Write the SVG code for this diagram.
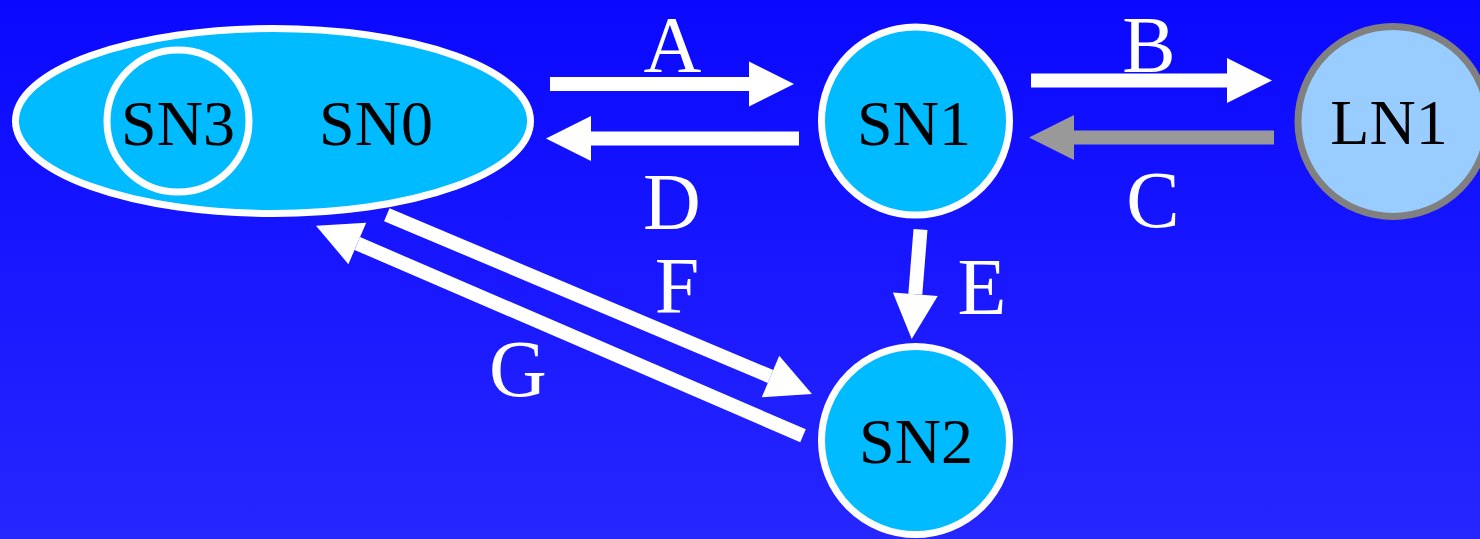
<svg xmlns="http://www.w3.org/2000/svg" width="1480" height="539" viewBox="0 0 1480 539">
<defs>
<linearGradient id="bg" x1="0" y1="0" x2="0" y2="1">
<stop offset="0" stop-color="#0a08ff"/>
<stop offset="1" stop-color="#2626ff"/>
</linearGradient>
<marker id="hw" markerUnits="userSpaceOnUse" markerWidth="46" markerHeight="46" refX="0" refY="22.5" orient="auto" overflow="visible">
<path d="M0,0 L45,22.5 L0,45 z" fill="#ffffff"/>
</marker>
<marker id="hg" markerUnits="userSpaceOnUse" markerWidth="46" markerHeight="46" refX="0" refY="22.5" orient="auto" overflow="visible">
<path d="M0,0 L45,22.5 L0,45 z" fill="#999999"/>
</marker>
<style>
.node{fill:#00bbff;stroke:#ffffff;stroke-width:7}
.ln{fill:#99ccff;stroke:#808080;stroke-width:7}
.nt{font-size:64px;fill:#000000;text-anchor:middle}
.lb{font-size:80px;fill:#ffffff;text-anchor:middle}
.aw{stroke:#ffffff;stroke-width:14;fill:none;marker-end:url(#hw)}
.ag{stroke:#999999;stroke-width:14;fill:none;marker-end:url(#hg)}
</style>
</defs>
<rect x="0" y="0" width="1480" height="539" fill="url(#bg)"/>
<g font-family="Liberation Serif, Times New Roman, serif">
<g id="connectors">
<line class="aw" x1="550" y1="84" x2="749" y2="84"/>
<line class="aw" x1="799" y1="138.5" x2="591" y2="138.5"/>
<line class="aw" x1="1031" y1="80.5" x2="1227" y2="80.5"/>
<line class="ag" x1="1274" y1="137.5" x2="1074" y2="137.5"/>
<line class="aw" x1="920.5" y1="229.5" x2="915.3" y2="294.2"/>
<line class="aw" x1="386.8" y1="214.7" x2="770.5" y2="376.5"/>
<line class="aw" x1="803" y1="435.7" x2="357.3" y2="243.5"/>
<text class="lb" x="672.5" y="72">A</text>
<text class="lb" x="1149" y="72">B</text>
<text class="lb" x="1153" y="227">C</text>
<text class="lb" x="672" y="229">D</text>
<text class="lb" x="982" y="314">E</text>
<text class="lb" x="677" y="313">F</text>
<text class="lb" x="518" y="396">G</text>
</g>
<g id="SN0">
<ellipse class="node" cx="273" cy="121" rx="257.5" ry="92.5"/>
<text class="nt" x="376" y="145">SN0</text>
</g>
<g id="SN3">
<circle class="node" cx="178" cy="121" r="71" stroke-width="6"/>
<text class="nt" x="178" y="145">SN3</text>
</g>
<g id="SN1">
<circle class="node" cx="915.5" cy="121" r="94"/>
<text class="nt" x="914" y="145">SN1</text>
</g>
<g id="SN2">
<circle class="node" cx="915.5" cy="440.5" r="94"/>
<text class="nt" x="916" y="463">SN2</text>
</g>
<g id="LN1">
<circle class="ln" cx="1393" cy="121.5" r="95"/>
<text class="nt" x="1389" y="144">LN1</text>
</g>
</g>
</svg>
